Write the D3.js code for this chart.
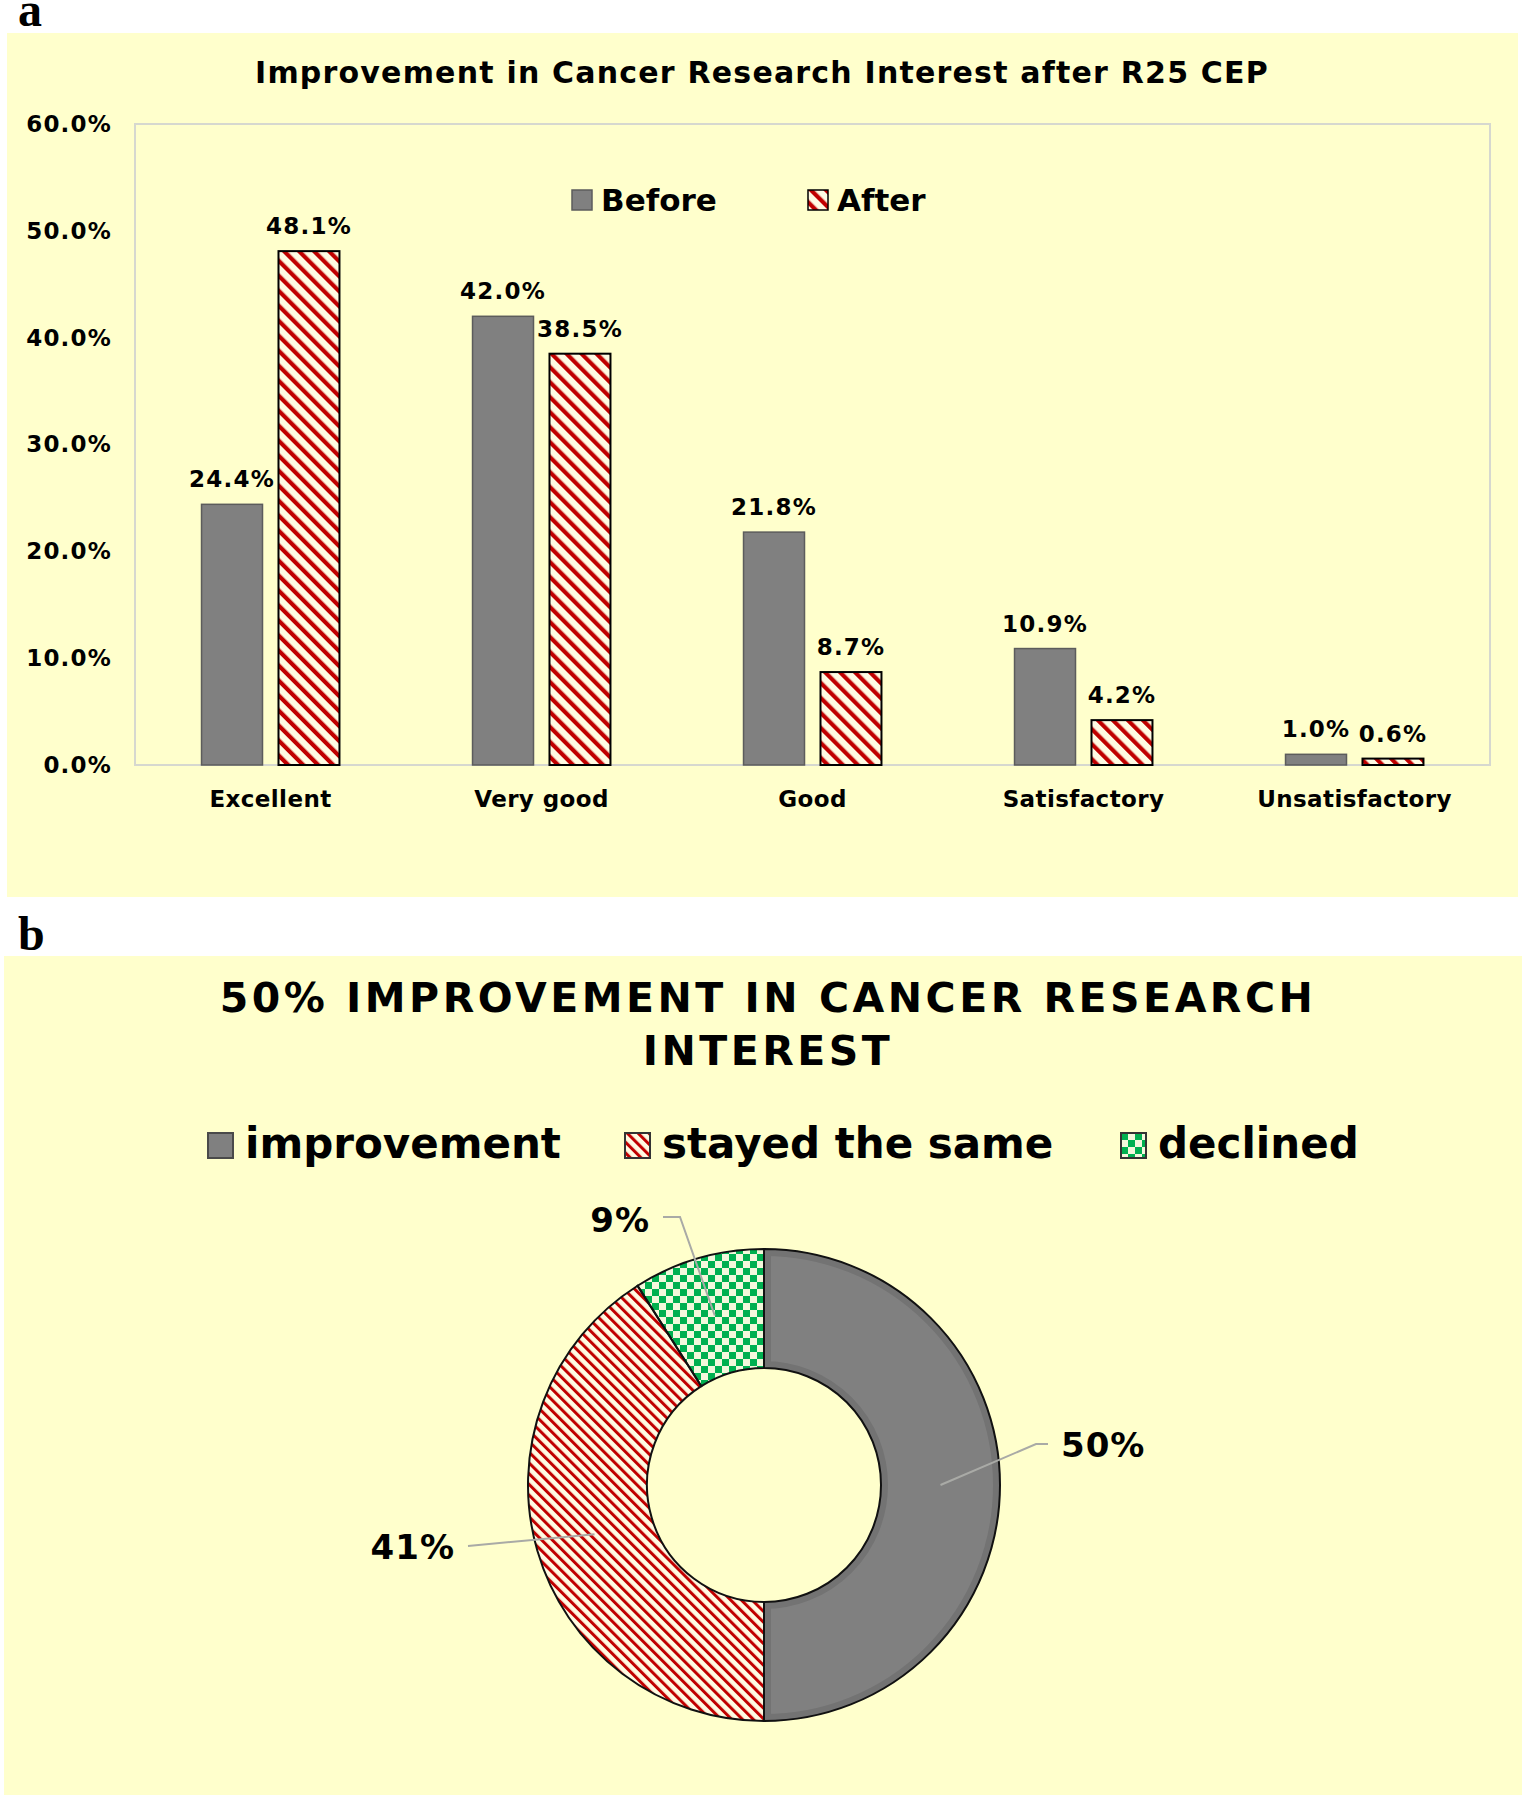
<!DOCTYPE html>
<html>
<head>
<meta charset="utf-8">
<script src="https://cdn.jsdelivr.net/npm/d3@7"></script>
<style>
  body { margin: 0; background: #fff; }
  svg text { font-family: "DejaVu Sans", Verdana, sans-serif; font-weight: bold; fill: #000; }
  .panel-letter { font-family: "Liberation Serif", "Times New Roman", serif !important; }
</style>
</head>
<body>
<div id="chart"></div>
<script>
// Panel a data
var categories = ["Excellent", "Very good", "Good", "Satisfactory", "Unsatisfactory"];
var beforeValues = [24.4, 42.0, 21.8, 10.9, 1.0];
var afterValues = [48.1, 38.5, 8.7, 4.2, 0.6];
var seriesNames = ["Before", "After"];
var yTicks = [0, 10, 20, 30, 40, 50, 60];

// Panel b data
var pieLabels = ["improvement", "stayed the same", "declined"];
var pieValues = [50, 41, 9];

var svgWidth = 1524;
var svgHeight = 1795;

var svg = d3.select("#chart")
  .append("svg")
  .attr("width", svgWidth)
  .attr("height", svgHeight);

// Fill patterns
var defs = svg.append("defs");

function stripes(id, size, lineW) {
  var p = defs.append("pattern")
    .attr("id", id)
    .attr("patternUnits", "userSpaceOnUse")
    .attr("width", size)
    .attr("height", size)
    .attr("patternTransform", "rotate(-45)");
  p.append("rect").attr("width", size).attr("height", size).attr("fill", "#fffbe3");
  p.append("rect").attr("width", lineW).attr("height", size).attr("fill", "#c00000");
}
stripes("stripeBar", 10.6, 4.2);
stripes("stripePie", 7.6, 3);

var checker = defs.append("pattern")
  .attr("id", "checker")
  .attr("patternUnits", "userSpaceOnUse")
  .attr("width", 14)
  .attr("height", 14);
checker.append("rect").attr("width", 14).attr("height", 14).attr("fill", "#f4f8dc");
checker.append("rect").attr("width", 7).attr("height", 7).attr("fill", "#00b050");
checker.append("rect").attr("x", 7).attr("y", 7).attr("width", 7).attr("height", 7).attr("fill", "#00b050");

// =====================
// Panel a: bar chart
// =====================
svg.append("text")
  .attr("class", "panel-letter")
  .attr("x", 18)
  .attr("y", 26)
  .attr("font-size", 48)
  .text("a");

svg.append("rect")
  .attr("x", 7).attr("y", 33)
  .attr("width", 1511).attr("height", 864)
  .attr("fill", "#ffffcc");

svg.append("text")
  .attr("x", 762)
  .attr("y", 83)
  .attr("text-anchor", "middle")
  .attr("font-size", 30)
  .style("letter-spacing", "1.2px")
  .text("Improvement in Cancer Research Interest after R25 CEP");

var plot = { left: 135, right: 1490, top: 124, bottom: 765 };

var x = d3.scaleBand()
  .domain(categories)
  .range([plot.left, plot.right]);

var y = d3.scaleLinear()
  .domain([0, 60])
  .range([plot.bottom, plot.top]);

// plot frame
svg.append("rect")
  .attr("x", plot.left).attr("y", plot.top)
  .attr("width", plot.right - plot.left)
  .attr("height", plot.bottom - plot.top)
  .attr("fill", "none")
  .attr("stroke", "#d6d8cf")
  .attr("stroke-width", 2);

var leftAxis = d3.axisLeft(y)
  .tickValues(yTicks)
  .tickFormat(d => d.toFixed(1) + "%")
  .tickSize(0)
  .tickPadding(23);

var yAxis = svg.append("g")
  .attr("transform", `translate(${plot.left},0)`)
  .call(leftAxis);
yAxis.select(".domain").remove();
yAxis.selectAll("text")
  .attr("font-size", 23)
  .attr("font-family", null)
  .style("letter-spacing", "1.2px");

var bottomAxis = d3.axisBottom(x)
  .tickSize(0)
  .tickPadding(26);

var xAxis = svg.append("g")
  .attr("transform", `translate(0,${plot.bottom})`)
  .call(bottomAxis);
xAxis.select(".domain").remove();
xAxis.selectAll("text")
  .attr("font-size", 23)
  .attr("font-family", null)
  .style("letter-spacing", "0.4px");

var barW = x.bandwidth() * 0.225;
var barOff = x.bandwidth() * 0.142;

var barData = categories.map(function (c, i) {
  return { cat: c, before: beforeValues[i], after: afterValues[i] };
});

var groups = svg.selectAll("g.cat")
  .data(barData)
  .enter()
  .append("g")
  .attr("class", "cat");

// Before bars
groups.append("rect")
  .attr("x", d => x(d.cat) + x.bandwidth() / 2 - barOff - barW / 2)
  .attr("y", d => y(d.before))
  .attr("width", barW)
  .attr("height", d => y(0) - y(d.before))
  .attr("fill", "#808080")
  .attr("stroke", "#5c5c5c")
  .attr("stroke-width", 1.5);

// After bars
groups.append("rect")
  .attr("x", d => x(d.cat) + x.bandwidth() / 2 + barOff - barW / 2)
  .attr("y", d => y(d.after))
  .attr("width", barW)
  .attr("height", d => y(0) - y(d.after))
  .attr("fill", "url(#stripeBar)")
  .attr("stroke", "#000")
  .attr("stroke-width", 2);

groups.append("text")
  .attr("x", d => x(d.cat) + x.bandwidth() / 2 - barOff)
  .attr("y", d => y(d.before) - 17)
  .attr("text-anchor", "middle")
  .attr("font-size", 23)
  .style("letter-spacing", "1.2px")
  .text(d => d.before.toFixed(1) + "%");

groups.append("text")
  .attr("x", d => x(d.cat) + x.bandwidth() / 2 + barOff)
  .attr("y", d => y(d.after) - 17)
  .attr("text-anchor", "middle")
  .attr("font-size", 23)
  .style("letter-spacing", "1.2px")
  .text(d => d.after.toFixed(1) + "%");

// legend a
var legendA = [
  { name: seriesNames[0], fill: "#808080", stroke: "#5c5c5c", x: 572 },
  { name: seriesNames[1], fill: "url(#stripeBar)", stroke: "#000", x: 808 }
];
var legA = svg.selectAll("g.legA")
  .data(legendA)
  .enter()
  .append("g")
  .attr("class", "legA")
  .attr("transform", d => `translate(${d.x},190)`);
legA.append("rect")
  .attr("width", 20).attr("height", 20)
  .attr("fill", d => d.fill)
  .attr("stroke", d => d.stroke)
  .attr("stroke-width", 1.5);
legA.append("text")
  .attr("x", 29)
  .attr("y", 21)
  .attr("font-size", 31)
  .text(d => d.name);

// =====================
// Panel b: donut chart
// =====================
svg.append("text")
  .attr("class", "panel-letter")
  .attr("x", 18)
  .attr("y", 950)
  .attr("font-size", 48)
  .text("b");

svg.append("rect")
  .attr("x", 4).attr("y", 956)
  .attr("width", 1518).attr("height", 839)
  .attr("fill", "#ffffcc");

var titleB = svg.append("text")
  .attr("text-anchor", "middle")
  .attr("font-size", 41)
  .style("letter-spacing", "3.5px");
titleB.append("tspan").attr("x", 768).attr("y", 1012).text("50% IMPROVEMENT IN CANCER RESEARCH");
titleB.append("tspan").attr("x", 768).attr("y", 1065).text("INTEREST");

var pieFills = ["#808080", "url(#stripePie)", "url(#checker)"];

// legend b
var legendBX = [208, 625, 1121];
var legB = svg.selectAll("g.legB")
  .data(pieLabels)
  .enter()
  .append("g")
  .attr("class", "legB")
  .attr("transform", (d, i) => `translate(${legendBX[i]},1133)`);
legB.append("rect")
  .attr("width", 25).attr("height", 25)
  .attr("fill", (d, i) => pieFills[i])
  .attr("stroke", (d, i) => i === 0 ? "#4a4a4a" : "#333")
  .attr("stroke-width", 2);
legB.append("text")
  .attr("x", 37)
  .attr("y", 25)
  .attr("font-size", 42)
  .text(d => d);

var cx = 764, cy = 1485;
var outerR = 236, innerR = 117;

var pie = d3.pie().sort(null)(pieValues);
var arc = d3.arc().innerRadius(innerR).outerRadius(outerR);

var donut = svg.append("g")
  .attr("transform", `translate(${cx},${cy})`);

donut.append("clipPath")
  .attr("id", "grayClip")
  .append("path")
  .attr("d", arc(pie[0]));

donut.selectAll("path.slice")
  .data(pie)
  .enter()
  .append("path")
  .attr("class", "slice")
  .attr("d", arc)
  .attr("fill", (d, i) => pieFills[i]);

// soft darker rim inside the gray slice
donut.append("path")
  .attr("d", arc(pie[0]))
  .attr("fill", "none")
  .attr("stroke", "#737373")
  .attr("stroke-width", 14)
  .attr("clip-path", "url(#grayClip)");

donut.selectAll("path.outline")
  .data(pie)
  .enter()
  .append("path")
  .attr("class", "outline")
  .attr("d", arc)
  .attr("fill", "none")
  .attr("stroke", "#111")
  .attr("stroke-width", 2);

// data labels with leader lines (offsets from the donut centre)
var labelLayout = [
  { elbow: [272, -41], end: [284, -41], text: [297, -28], anchor: "start" },
  { elbow: [-296, 61], end: [-296, 61], text: [-309, 74], anchor: "end" },
  { elbow: [-84, -268], end: [-101, -268], text: [-114, -253], anchor: "end" }
];
var midR = (innerR + outerR) / 2;

pie.forEach(function (d, i) {
  var a = (d.startAngle + d.endAngle) / 2;
  var sx = midR * Math.sin(a), sy = -midR * Math.cos(a);
  var L = labelLayout[i];
  donut.append("polyline")
    .attr("points", [[sx, sy], L.elbow, L.end].map(p => p.join(",")).join(" "))
    .attr("fill", "none")
    .attr("stroke", "#a9aaa6")
    .attr("stroke-width", 2);
  donut.append("text")
    .attr("x", L.text[0])
    .attr("y", L.text[1])
    .attr("text-anchor", L.anchor)
    .attr("font-size", 34)
    .style("letter-spacing", "1px")
    .text(Math.round(d.data) + "%");
});
</script>
</body>
</html>
